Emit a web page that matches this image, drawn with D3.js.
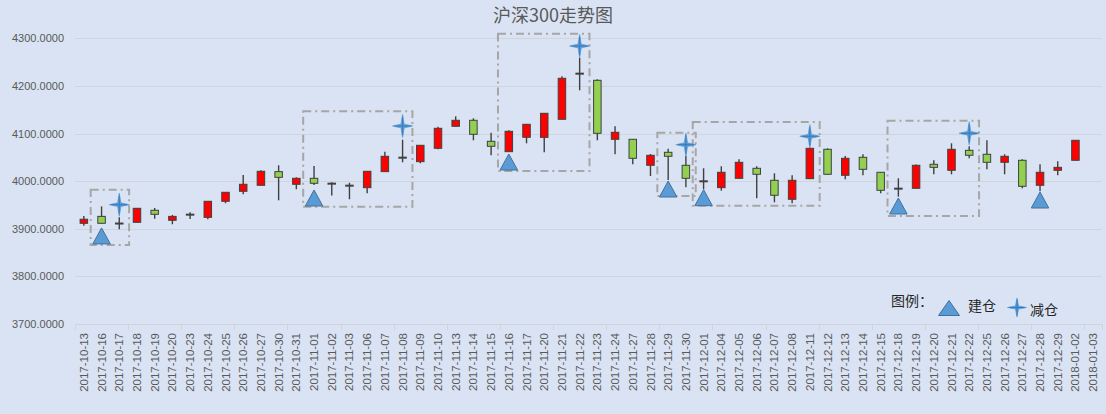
<!DOCTYPE html>
<html>
<head>
<meta charset="utf-8">
<script src="https://cdn.jsdelivr.net/npm/d3@7"></script>
<style>
  html, body { margin: 0; padding: 0; background: #dae3f3; }
  svg { display: block; }
</style>
</head>
<body>
<svg id="chart"></svg>
<script>
// Chart size
const width = 1106;
const height = 414;

// Trading days
const dates = [
    "2017-10-13", "2017-10-16", "2017-10-17", "2017-10-18", "2017-10-19", "2017-10-20",
    "2017-10-23", "2017-10-24", "2017-10-25", "2017-10-26", "2017-10-27", "2017-10-30",
    "2017-10-31", "2017-11-01", "2017-11-02", "2017-11-03", "2017-11-06", "2017-11-07",
    "2017-11-08", "2017-11-09", "2017-11-10", "2017-11-13", "2017-11-14", "2017-11-15",
    "2017-11-16", "2017-11-17", "2017-11-20", "2017-11-21", "2017-11-22", "2017-11-23",
    "2017-11-24", "2017-11-27", "2017-11-28", "2017-11-29", "2017-11-30", "2017-12-01",
    "2017-12-04", "2017-12-05", "2017-12-06", "2017-12-07", "2017-12-08", "2017-12-11",
    "2017-12-12", "2017-12-13", "2017-12-14", "2017-12-15", "2017-12-18", "2017-12-19",
    "2017-12-20", "2017-12-21", "2017-12-22", "2017-12-25", "2017-12-26", "2017-12-27",
    "2017-12-28", "2017-12-29", "2018-01-02", "2018-01-03"
];

// OHLC values
const open = [
    3911.5, 3926.0, 3911.0, 3913.6, 3938.8, 3917.8, 3929.6, 3924.0, 3957.7, 3978.7,
    3991.3, 4020.0, 3993.4, 4006.0, 3994.7, 3990.5, 3986.3, 4020.0, 4049.3, 4040.9,
    4069.0, 4115.2, 4127.8, 4083.7, 4061.9, 4092.1, 4092.0, 4129.9, 4225.7, 4211.8,
    4087.9, 4087.9, 4033.3, 4060.6, 4033.3, 3999.7, 3986.3, 4006.0, 4027.0, 4001.8,
    3961.9, 4005.2, 4066.9, 4012.3, 4050.1, 4018.6, 3984.2, 3985.0, 4035.4, 4022.8,
    4064.8, 4056.4, 4039.6, 4043.8, 3991.3, 4022.8, 4043.8, null
];
const close = [
    3920.0, 3911.5, 3911.0, 3943.0, 3930.4, 3926.0, 3929.6, 3957.7, 3976.6, 3993.4,
    4020.7, 4008.0, 4006.0, 3995.5, 3994.7, 3990.5, 4020.7, 4052.2, 4049.3, 4075.3,
    4111.0, 4127.8, 4098.4, 4073.2, 4104.7, 4119.4, 4142.5, 4216.0, 4225.7, 4100.5,
    4102.6, 4048.0, 4054.3, 4052.2, 4006.0, 3999.7, 4018.6, 4039.6, 4014.4, 3970.3,
    4001.8, 4069.0, 4014.4, 4048.0, 4024.9, 3980.8, 3984.2, 4033.3, 4029.0, 4066.9,
    4054.3, 4039.6, 4052.2, 3989.2, 4018.6, 4029.0, 4085.8, null
];
const high = [
    3927.0, 3947.0, 3924.0, 3943.5, 3943.6, 3929.0, 3934.6, 3958.0, 3977.0, 4013.0,
    4022.8, 4033.3, 4008.0, 4031.8, 3997.6, 3996.7, 4021.0, 4061.9, 4087.0, 4075.5,
    4114.4, 4136.2, 4132.0, 4101.8, 4106.8, 4120.0, 4143.0, 4220.2, 4259.3, 4213.9,
    4115.2, 4088.0, 4057.0, 4068.2, 4052.8, 4027.0, 4031.2, 4046.0, 4031.2, 4016.5,
    4012.3, 4070.0, 4069.0, 4052.8, 4056.4, 4019.0, 4006.0, 4035.0, 4043.8, 4079.5,
    4073.2, 4085.8, 4056.4, 4046.0, 4035.4, 4041.7, 4086.0, null
];
const low = [
    3906.5, 3911.0, 3899.0, 3913.0, 3921.0, 3909.4, 3920.5, 3920.0, 3953.5, 3972.4,
    3991.0, 3959.8, 3983.0, 3992.0, 3970.0, 3962.0, 3974.5, 4019.5, 4039.6, 4037.5,
    4066.9, 4115.0, 4085.8, 4054.3, 4061.5, 4079.5, 4060.6, 4129.5, 4190.8, 4085.8,
    4056.4, 4035.4, 4010.8, 4002.4, 3987.0, 3983.0, 3980.0, 4005.5, 3964.0, 3955.6,
    3953.5, 4004.5, 4014.0, 4003.9, 4012.3, 3974.5, 3967.4, 3984.5, 4014.4, 4014.4,
    4048.0, 4024.9, 4014.4, 3985.0, 3978.7, 4012.3, 4043.5, null
];

// 建仓 (buy) markers
const buyDates = ["2017-10-16", "2017-11-01", "2017-11-16", "2017-11-29", "2017-12-01", "2017-12-18", "2017-12-28"];
const buyValues = [3885, 3964.6, 4040.2, 3983.5, 3965.3, 3947.8, 3960.4];

// 减仓 (sell) markers
const sellDates = ["2017-10-17", "2017-11-08", "2017-11-22", "2017-11-30", "2017-12-11", "2017-12-22"];
const sellValues = [3950.6, 4115.8, 4283.8, 4076.6, 4094.2, 4100.5];

// Holding period boxes
const boxStart = ["2017-10-16", "2017-11-01", "2017-11-16", "2017-11-29", "2017-12-01", "2017-12-18"];
const boxEnd = ["2017-10-17", "2017-11-08", "2017-11-22", "2017-11-30", "2017-12-11", "2017-12-22"];
const boxLow = [3866, 3946.4, 4021.3, 3968.8, 3948.5, 3926.8];
const boxHigh = [3982, 4147, 4309.7, 4101.8, 4124.2, 4127];

// Axis ticks
const yTicks = [3700, 3800, 3900, 4000, 4100, 4200, 4300];

const svg = d3.select("#chart")
    .attr("width", width)
    .attr("height", height)
    .style("font-family", "'Liberation Sans', Arial, sans-serif");

svg.append("rect")
    .attr("width", width)
    .attr("height", height)
    .attr("fill", "#dae3f3");

// Scales
const x = d3.scaleBand()
    .domain(dates)
    .range([75, 1102]);

const y = d3.scaleLinear()
    .domain([3700, 4300])
    .range([324, 38.3]);

// Gridlines
svg.append("g")
    .selectAll("line")
    .data(yTicks)
    .join("line")
    .attr("x1", x.range()[0])
    .attr("x2", x.range()[1])
    .attr("y1", d => Math.round(y(d)) + 0.5)
    .attr("y2", d => Math.round(y(d)) + 0.5)
    .attr("stroke", "#d0d5dd")
    .attr("stroke-width", 1);

// Y axis labels
const yAxis = svg.append("g")
    .attr("transform", "translate(66,0)")
    .call(d3.axisLeft(y).tickValues(yTicks).tickSize(0).tickPadding(2).tickFormat(d3.format(".4f")));
yAxis.select(".domain").remove();
yAxis.selectAll("text")
    .attr("fill", "#595959")
    .style("font-size", "11px")
    .style("font-family", "'Liberation Sans', Arial, sans-serif");

// X axis labels (rotated)
const xAxis = svg.append("g")
    .attr("transform", "translate(0,324)")
    .call(d3.axisBottom(x).tickSize(0).tickPadding(0));
xAxis.select(".domain").remove();
xAxis.selectAll("text")
    .attr("fill", "#595959")
    .style("font-size", "11.5px")
    .style("font-family", "'Liberation Sans', Arial, sans-serif")
    .attr("text-anchor", "end")
    .attr("transform", "rotate(-90)")
    .attr("x", -9)
    .attr("y", 0)
    .attr("dy", "0.35em");

// Category tick marks, every 3 days
const step = x.step();
svg.append("g")
    .selectAll("line")
    .data(dates.filter((d, i) => i % 3 === 0).concat([null]))
    .join("line")
    .attr("x1", d => Math.round(d === null ? x.range()[1] : x(d)) + 0.5)
    .attr("x2", d => Math.round(d === null ? x.range()[1] : x(d)) + 0.5)
    .attr("y1", 324)
    .attr("y2", 330)
    .attr("stroke", "#d0d5dd");

// Holding boxes (dash-dot)
svg.append("g")
    .selectAll("rect")
    .data(boxStart.map((d, i) => i))
    .join("rect")
    .attr("x", i => x(boxStart[i]) - 2)
    .attr("y", i => y(boxHigh[i]))
    .attr("width", i => x(boxEnd[i]) + step - x(boxStart[i]) + 3)
    .attr("height", i => y(boxLow[i]) - y(boxHigh[i]))
    .attr("fill", "none")
    .attr("stroke", "#a6a6a6")
    .attr("stroke-width", 2)
    .attr("stroke-dasharray", "8,4,2,4");

// Candles
const candleIdx = dates.map((d, i) => i).filter(i => open[i] !== null);
const bodyW = 7.5;
const candles = svg.append("g")
    .selectAll("g")
    .data(candleIdx)
    .join("g")
    .attr("transform", i => `translate(${x(dates[i]) + x.bandwidth() / 2},0)`);

candles.append("line")
    .attr("y1", i => y(high[i]))
    .attr("y2", i => y(low[i]))
    .attr("stroke", "#404040")
    .attr("stroke-width", 1.4);

candles.filter(i => open[i] !== close[i])
    .append("rect")
    .attr("x", -bodyW / 2)
    .attr("width", bodyW)
    .attr("y", i => y(Math.max(open[i], close[i])))
    .attr("height", i => Math.abs(y(open[i]) - y(close[i])))
    .attr("fill", i => close[i] > open[i] ? "#ff0000" : "#92d050")
    .attr("stroke", "#404040")
    .attr("stroke-width", 1);

candles.filter(i => open[i] === close[i])
    .append("line")
    .attr("x1", -bodyW / 2 - 0.5)
    .attr("x2", bodyW / 2 + 0.5)
    .attr("y1", i => y(open[i]))
    .attr("y2", i => y(open[i]))
    .attr("stroke", "#404040")
    .attr("stroke-width", 2);

// Marker shapes
function trianglePath(w, h) {
    return `M0,${-h / 2}L${w / 2},${h / 2}L${-w / 2},${h / 2}Z`;
}
function starPath(rx, ry) {
    const sx = rx * 0.16, sy = ry * 0.16;
    return `M0,${-ry}L${sx},${-sy}L${rx},0L${sx},${sy}L0,${ry}L${-sx},${sy}L${-rx},0L${-sx},${-sy}Z`;
}

function drawStar(g, rx, ry) {
    g.append("path")
        .attr("d", starPath(rx, ry))
        .attr("fill", "#5b9bd5")
        .attr("stroke", "#5b9bd5")
        .attr("stroke-width", 0.8)
        .attr("stroke-linejoin", "miter");
    g.append("path")
        .attr("d", `M0,${-ry * 0.8}V${ry * 0.8}M${-rx * 0.8},0H${rx * 0.8}`)
        .attr("stroke", "#2e75b6")
        .attr("stroke-width", 1)
        .attr("opacity", 0.8);
}

// Buy triangles
svg.append("g")
    .selectAll("path")
    .data(buyDates.map((d, i) => i))
    .join("path")
    .attr("transform", i => `translate(${x(buyDates[i]) + x.bandwidth() / 2},${y(buyValues[i])})`)
    .attr("d", trianglePath(17.5, 16))
    .attr("fill", "#5b9bd5")
    .attr("stroke", "#41719c")
    .attr("stroke-width", 1);

// Sell stars
svg.append("g")
    .selectAll("g")
    .data(sellDates.map((d, i) => i))
    .join("g")
    .attr("transform", i => `translate(${x(sellDates[i]) + x.bandwidth() / 2},${y(sellValues[i])})`)
    .each(function () { drawStar(d3.select(this), 10, 11.5); });

// Title
svg.append("text")
    .attr("x", 553)
    .attr("y", 21.5)
    .attr("text-anchor", "middle")
    .attr("fill", "#595959")
    .style("font-size", "18px")
    .style("font-family", "'Noto Sans CJK SC', sans-serif")
    .text("沪深300走势图");

// Legend
const legend = svg.append("g")
    .style("font-family", "'Noto Sans CJK SC', sans-serif")
    .style("font-size", "14px")
    .attr("fill", "#262626");

legend.append("text")
    .attr("x", 891)
    .attr("y", 301)
    .attr("dy", "0.35em")
    .text("图例：");

legend.append("path")
    .attr("transform", "translate(949,308)")
    .attr("d", trianglePath(21, 15))
    .attr("fill", "#5b9bd5")
    .attr("stroke", "#41719c")
    .attr("stroke-width", 1);

legend.append("text")
    .attr("x", 968)
    .attr("y", 306.5)
    .attr("dy", "0.35em")
    .text("建仓");

const legendStar = legend.append("g")
    .attr("transform", "translate(1017,307.5)");
drawStar(legendStar, 9.5, 9.5);

legend.append("text")
    .attr("x", 1030)
    .attr("y", 310)
    .attr("dy", "0.35em")
    .text("减仓");
</script>
</body>
</html>
